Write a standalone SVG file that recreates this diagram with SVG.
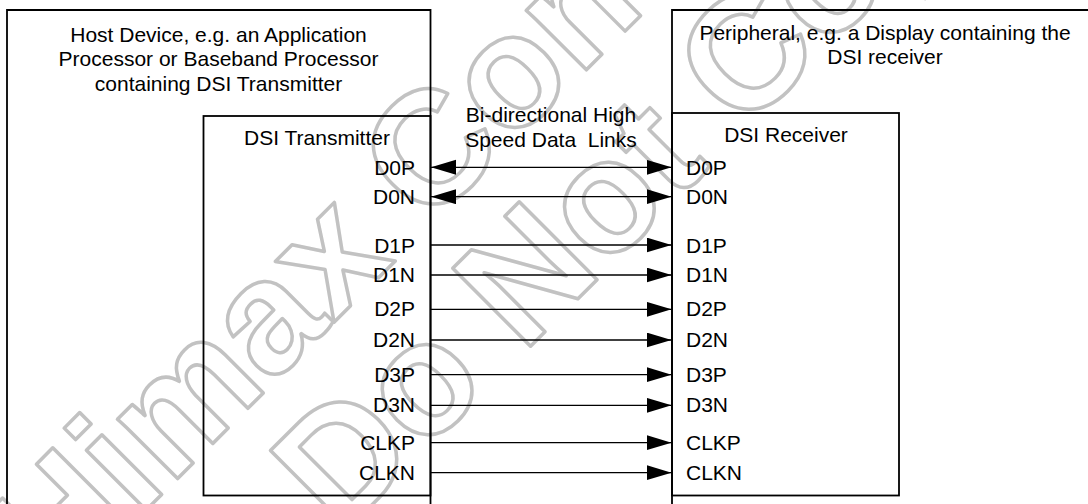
<svg xmlns="http://www.w3.org/2000/svg" width="1088" height="504" viewBox="0 0 1088 504">
<style>
text{font-family:"Liberation Sans",Arial,sans-serif;font-size:21px;fill:#000}
.box{fill:none;stroke:#000;stroke-width:1.8}
.ln{stroke:#000;stroke-width:1.3;fill:none}
.wm{font-family:"Liberation Sans",Arial,sans-serif;font-weight:bold;font-size:160px;fill:none;stroke:#c2c2c2;stroke-width:3.5;stroke-linejoin:round}
.l{text-anchor:end}
.m{text-anchor:middle}
</style>
<defs>
<marker id="ah" markerUnits="userSpaceOnUse" markerWidth="26" markerHeight="16" refX="25" refY="7.5" orient="auto-start-reverse" viewBox="0 0 26 16">
<path d="M0,0 L25,7.5 L0,15 z" fill="#000"/>
</marker>
</defs>
<rect width="1088" height="504" fill="#fff"/>
<g id="watermark" transform="rotate(-45)">
<text class="wm" x="-384" y="464">Himax Confidential</text>
<text class="wm" x="-138" y="620">Do Not Copy</text>
</g>
<g id="host">
<path class="box" d="M7,512 V10 H430.5 V512"/>
<text class="m" x="218.5" y="41.5">Host Device, e.g. an Application</text>
<text class="m" x="218.5" y="66">Processor or Baseband Processor</text>
<text class="m" x="218.5" y="90.5">containing DSI Transmitter</text>
</g>
<g id="peripheral">
<path class="box" d="M672,512 V10 H1100"/>
<text class="m" x="885" y="39.5">Peripheral, e.g. a Display containing the</text>
<text class="m" x="885" y="64.3">DSI receiver</text>
</g>
<g id="transmitter">
<rect class="box" x="203.5" y="116" width="227" height="379.5"/>
<text class="m" x="317" y="145">DSI Transmitter</text>
<text class="l" x="415" y="175">D0P</text>
<text class="l" x="415" y="204">D0N</text>
<text class="l" x="415" y="252.5">D1P</text>
<text class="l" x="415" y="282">D1N</text>
<text class="l" x="415" y="316.3">D2P</text>
<text class="l" x="415" y="347">D2N</text>
<text class="l" x="415" y="381.5">D3P</text>
<text class="l" x="415" y="411.5">D3N</text>
<text class="l" x="415" y="449.5">CLKP</text>
<text class="l" x="415" y="479.5">CLKN</text>
</g>
<g id="receiver">
<rect class="box" x="672" y="113" width="227" height="382.5"/>
<text class="m" x="786" y="141.7">DSI Receiver</text>
<text x="686" y="175">D0P</text>
<text x="686" y="204">D0N</text>
<text x="686" y="252.5">D1P</text>
<text x="686" y="282">D1N</text>
<text x="686" y="316.3">D2P</text>
<text x="686" y="347">D2N</text>
<text x="686" y="381.5">D3P</text>
<text x="686" y="411.5">D3N</text>
<text x="686" y="449.5">CLKP</text>
<text x="686" y="479.5">CLKN</text>
</g>
<g id="link-label">
<text class="m" x="551" y="122.3">Bi-directional High</text>
<text class="m" x="551" y="147.3" xml:space="preserve">Speed Data  Links</text>
</g>
<g id="connectors">
<line class="ln" x1="431" y1="167.3" x2="671.5" y2="167.3" marker-start="url(#ah)" marker-end="url(#ah)"/>
<line class="ln" x1="431" y1="196.7" x2="671.5" y2="196.7" marker-start="url(#ah)" marker-end="url(#ah)"/>
<line class="ln" x1="431" y1="245" x2="671.5" y2="245" marker-end="url(#ah)"/>
<line class="ln" x1="431" y1="275" x2="671.5" y2="275" marker-end="url(#ah)"/>
<line class="ln" x1="431" y1="309.3" x2="671.5" y2="309.3" marker-end="url(#ah)"/>
<line class="ln" x1="431" y1="340" x2="671.5" y2="340" marker-end="url(#ah)"/>
<line class="ln" x1="431" y1="374.7" x2="671.5" y2="374.7" marker-end="url(#ah)"/>
<line class="ln" x1="431" y1="405.3" x2="671.5" y2="405.3" marker-end="url(#ah)"/>
<line class="ln" x1="431" y1="442.7" x2="671.5" y2="442.7" marker-end="url(#ah)"/>
<line class="ln" x1="431" y1="472.7" x2="671.5" y2="472.7" marker-end="url(#ah)"/>
</g>
</svg>
